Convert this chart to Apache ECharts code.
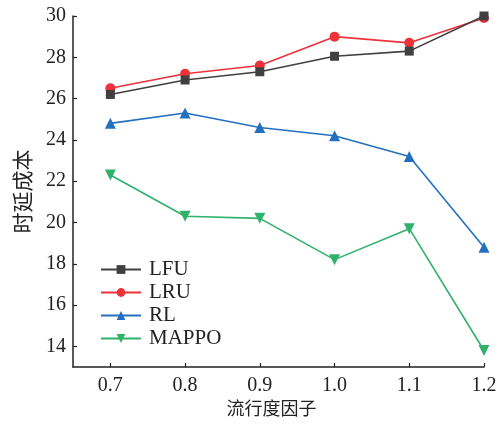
<!DOCTYPE html>
<html>
<head>
<meta charset="utf-8">
<script src="https://cdn.jsdelivr.net/npm/echarts@6/dist/echarts.min.js"></script>
<style>html,body{margin:0;padding:0;background:#fff}#c{width:501px;height:424px}</style>
</head>
<body>
<div id="c"></div>
<script>
var xValues = [0.7, 0.8, 0.9, 1.0, 1.1, 1.2];
var lfu = [26.2, 26.9, 27.3, 28.05, 28.3, 30.0];
var lru = [26.5, 27.2, 27.6, 29.0, 28.7, 29.9];
var rl = [24.8, 25.3, 24.6, 24.2, 23.2, 18.8];
var mappo = [22.3, 20.3, 20.2, 18.2, 19.7, 13.8];
var seriesNames = ['LFU', 'LRU', 'RL', 'MAPPO'];
var xName = '流行度因子';
var yName = '时延成本';
var xTicks = [0.7, 0.8, 0.9, 1.0, 1.1, 1.2];
var yTicks = [14, 16, 18, 20, 22, 24, 26, 28, 30];

function pairs(vals){ return xValues.map(function(x,i){ return [x, vals[i]]; }); }
var font = 'Liberation Serif, "Noto Sans CJK SC", serif';
var chart = echarts.init(document.getElementById('c'));
function mk(name, vals, color, symbol, size, z){
  return {name:name, type:'line', data:pairs(vals), symbol:symbol, symbolSize:size, z:z,
    lineStyle:{color:color, width:1.6}, itemStyle:{color:color}, animation:false};
}
chart.setOption({
  animation:false,
  grid:{left:73, right:17, top:16, bottom:55},
  legend:{orient:'vertical', left:100, top:259, padding:0, itemWidth:40, itemHeight:11, itemGap:2,
    textStyle:{fontFamily:font, fontSize:21, lineHeight:20, color:'#222', padding:[0,0,0,3]},
    data:seriesNames},
  xAxis:{type:'value', min:0.65, max:1.2, interval:0.1,
    name:xName, nameLocation:'middle', nameGap:34,
    nameTextStyle:{fontFamily:font, fontSize:18, color:'#222', padding:[0,14,0,0]},
    axisLine:{lineStyle:{color:'#222', width:1.5}},
    axisTick:{inside:true, length:4, lineStyle:{color:'#222', width:1.2}, customValues:xTicks},
    axisLabel:{fontFamily:font, fontSize:20, color:'#222', margin:9, customValues:xTicks,
      formatter:function(v){return v.toFixed(1);}},
    splitLine:{show:false}},
  yAxis:{type:'value', min:13, max:30, interval:1,
    name:yName, nameLocation:'middle', nameGap:38,
    nameTextStyle:{fontFamily:font, fontSize:21, color:'#222'},
    axisLine:{show:true, lineStyle:{color:'#222', width:1.5}},
    axisTick:{inside:true, length:4, lineStyle:{color:'#222', width:1.2}, customValues:yTicks},
    axisLabel:{fontFamily:font, fontSize:20, color:'#222', margin:7, customValues:yTicks},
    splitLine:{show:false}},
  series:[
    mk('LRU', lru, '#ee3239', 'circle', 10, 2),
    mk('LFU', lfu, '#404040', 'rect', 9, 3),
    mk('RL', rl, '#2470c0', 'triangle', 11, 2),
    mk('MAPPO', mappo, '#2fb26b', 'path://M0,0 L10,0 L5,9 Z', 11, 2)
  ]
});
</script>
</body>
</html>
